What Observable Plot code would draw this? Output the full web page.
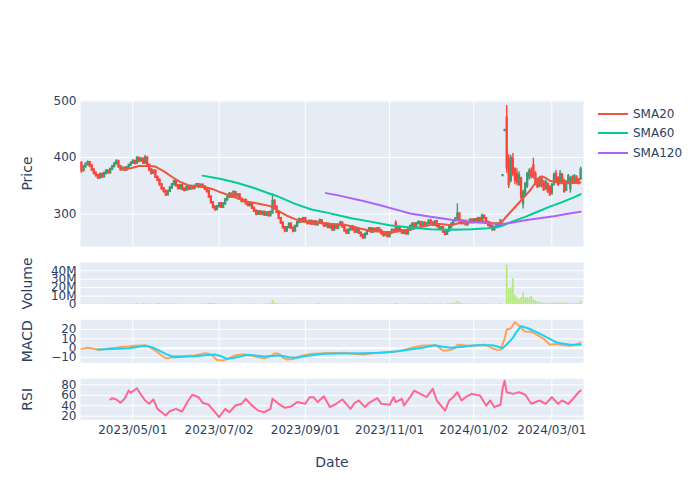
<!DOCTYPE html>
<html><head><meta charset="utf-8">
<script src="https://cdn.jsdelivr.net/npm/d3@7"></script>
<script src="https://cdn.jsdelivr.net/npm/@observablehq/plot@0.6"></script>
<style>
body{margin:0;background:#fff;}
#chart{position:relative;width:700px;height:500px;font-family:"DejaVu Sans",Verdana,sans-serif;color:#2a3f5f;}
#chart svg{position:absolute;left:0;top:0;}
.sw{position:absolute;left:598px;width:30px;height:2px;}
.lt{position:absolute;left:633px;font-size:12px;line-height:14px;white-space:nowrap;}
</style></head><body><div id="chart"></div>
<script>
// ---- data ----
const firstDay = "2023-03-27";
const holidays = ["2023-05-03","2023-05-04","2023-05-05","2023-07-17","2023-08-11","2023-09-18","2023-10-09","2023-11-03","2023-11-23","2024-01-01","2024-01-02","2024-01-03","2024-01-08","2024-02-12","2024-02-23","2024-03-20"];
const tickDates = ["2023-05-01","2023-07-02","2023-09-01","2023-11-01","2024-01-02","2024-03-01"];
const tickLabels = ["2023/05/01","2023/07/02","2023/09/01","2023/11/01","2024/01/02","2024/03/01"];

const openP = [390,377,384,388,391,385,378,372,368,364,
370,366,372,376,373,379,384,389,393,384,
379,381,378,382,386,390,393,390,398,394,
397,390,399,386,378,372,376,365,360,352,
345,340,334,340,346,352,357,350,345,350,
344,342,347,344,348,345,349,352,348,351,
348,344,340,330,320,312,308,313,318,312,
318,325,330,335,330,338,332,334,326,322,
324,318,315,318,310,305,300,304,300,303,
298,302,297,302,322,312,303,292,284,276,
270,276,282,275,270,278,285,290,286,292,
286,283,287,282,286,281,285,288,283,279,
282,276,280,272,278,275,280,284,277,270,
266,272,277,272,268,273,266,262,258,264,
270,274,268,273,270,274,270,265,262,265,
260,266,271,283,270,275,270,266,270,265,
272,278,282,277,283,285,280,284,279,283,
287,284,280,286,278,273,276,268,264,270,
276,282,288,289,300,288,283,287,281,285,
289,285,290,286,292,288,296,292,285,280,
278,272,276,282,279,368,448,470,396,360,
396,378,370,352,362,318,335,350,365,376,
385,370,360,350,362,355,345,352,346,336,
352,370,362,355,368,358,342,356,345,364,
356,364,360,362];
const highP = [392,386,390,394,393,387,380,374,370,372,
372,374,378,378,381,386,391,396,395,386,
383,383,384,388,392,396,395,402,401,399,
399,404,401,388,380,378,378,367,362,354,
347,342,342,348,354,360,359,352,352,352,
346,349,349,350,350,351,354,354,353,353,
350,346,342,332,322,314,315,320,320,320,
327,332,338,337,341,340,336,336,328,326,
326,320,320,320,312,307,306,306,305,305,
304,304,305,336,326,314,305,294,286,278,
278,284,284,277,280,287,293,292,294,294,
288,289,289,288,288,287,291,290,285,284,
284,282,282,280,280,282,287,286,279,272,
274,279,279,274,275,275,268,264,266,272,
276,276,275,275,276,276,272,267,267,267,
268,273,273,288,277,277,272,272,272,274,
280,284,284,285,288,287,286,286,285,290,
291,286,288,289,280,278,278,270,272,278,
284,290,294,318,302,290,289,289,287,291,
291,292,292,294,294,300,298,294,287,283,
280,278,284,284,290,368,448,492,405,404,
407,382,380,375,365,342,356,374,380,382,
399,375,364,366,366,359,360,355,350,354,
373,377,366,377,372,362,359,370,366,368,
370,368,363,383];
const lowP = [372,374,381,385,382,375,369,365,361,362,
363,364,369,371,371,377,382,387,381,376,
376,375,376,380,384,388,387,388,391,392,
388,388,384,375,369,370,363,357,349,342,
337,331,332,338,344,350,348,343,343,341,
339,340,341,342,343,343,347,346,346,345,
342,337,328,318,309,305,306,311,310,310,
316,323,328,328,328,330,330,324,320,320,
316,313,313,308,303,297,298,298,298,296,
296,295,295,300,310,301,290,282,273,267,
268,274,273,267,268,276,283,284,284,284,
281,281,280,280,279,279,283,281,276,277,
274,274,270,270,273,273,278,275,268,264,
264,270,270,266,266,264,259,255,256,262,
268,266,266,268,268,268,263,259,260,258,
258,264,266,268,268,268,264,264,263,263,
270,276,275,275,281,278,278,277,277,281,
282,278,278,276,271,271,266,261,262,268,
274,280,286,287,286,281,281,279,279,283,
283,283,284,284,286,286,290,283,277,275,
270,270,274,276,277,368,448,372,345,355,
366,352,350,349,325,309,330,345,360,362,
362,350,345,347,346,340,342,336,332,334,
350,354,349,352,352,337,340,352,337,352,
353,353,352,360];
const closeP = [377,384,388,391,385,378,372,368,364,370,
366,372,376,373,379,384,389,393,384,379,
381,378,382,386,390,393,390,398,394,397,
390,399,386,378,372,376,365,360,352,345,
340,334,340,346,352,357,350,345,350,344,
342,347,344,348,345,349,352,348,351,348,
344,340,330,320,312,308,313,318,312,318,
325,330,335,330,338,332,334,326,322,324,
318,315,318,310,305,300,304,300,303,298,
302,297,303,322,312,303,292,284,276,270,
276,282,275,270,278,285,290,286,292,286,
283,287,282,286,281,285,288,283,279,282,
276,280,272,278,275,280,284,277,270,266,
272,277,272,268,273,266,262,258,264,270,
274,268,273,270,274,270,265,262,265,260,
266,271,268,270,275,270,266,270,265,272,
278,282,277,283,285,280,284,279,283,287,
284,280,286,278,273,276,268,264,270,276,
282,288,291,300,288,283,287,281,285,289,
285,290,286,292,288,296,292,285,280,278,
272,276,282,279,288,368,448,382,352,398,
372,360,356,368,330,338,352,370,375,368,
366,356,348,362,350,343,356,340,334,350,
368,358,352,370,355,340,356,366,362,356,
366,356,354,378];
// volume in millions
const volumeM = [0.6,0.5,0.4,0.5,0.7,0.5,0.4,0.3,0.5,0.6,0.4,0.5,0.5,0.4,0.6,0.7,0.5,0.4,0.6,0.5,0.4,0.5,0.6,0.8,0.5,0.4,0.6,0.9,0.6,0.7,
1.1,0.8,0.6,0.7,0.5,0.6,0.9,1.0,1.3,0.9,0.8,0.6,0.7,0.5,0.6,0.8,0.5,0.4,0.5,0.6,0.4,0.5,0.4,0.5,0.6,0.5,0.4,0.5,0.6,0.7,
0.8,0.9,1.2,1.6,1.1,0.8,0.7,0.6,0.5,0.6,0.8,0.7,0.6,0.5,0.6,0.5,0.4,0.5,0.6,0.5,0.4,0.6,0.5,0.7,0.6,0.5,0.4,0.5,0.6,0.7,
0.8,1.0,1.6,5.2,2.0,1.2,0.9,0.8,0.7,0.6,0.7,0.6,0.5,0.6,0.7,0.5,0.6,0.5,0.4,0.5,0.6,0.5,0.4,0.5,0.6,0.8,1.0,0.6,0.5,0.4,
0.5,0.4,0.6,0.5,0.4,0.5,0.6,0.5,0.4,0.5,0.4,0.5,0.6,0.5,0.4,0.5,0.6,0.7,0.5,0.4,0.5,0.6,0.5,0.4,0.5,0.6,0.5,0.4,0.5,0.6,
0.5,0.7,0.6,1.3,0.8,0.6,0.5,0.4,0.5,0.6,0.8,0.9,0.7,0.6,0.8,0.7,0.6,0.9,1.1,0.8,0.7,0.6,0.8,0.7,0.6,0.9,0.7,0.6,0.8,1.0,
1.2,1.3,1.6,4.1,2.2,1.4,0.9,0.8,0.7,0.6,0.7,0.6,0.5,0.6,0.7,0.8,0.6,0.5,0.6,0.5,0.4,0.6,0.5,0.6,1.0,
0.3,0.4,47,18.7,19.9,30.6,10.7,8.7,6,8,13.5,8,8,8,9.5,5,4,3,2.5,2,1.8,1.5,1.5,1.2,1.5,2.2,1.5,1.2,1.8,1.5,1.8,1.5,1.2,1,1.2,1,1.2,1.4,3.5];

const sma20Day = [19,24,28,33,36,40,44,48,52,56,60,64,68,72,76,80,84,88,92,96,100,104,108,112,116,120,124,128,132,136,140,144,148,152,156,160,164,168,172,176,180,184,188,192,196,200,204,205,206,208,210,212,214,216,218,220,222,224,226,228,232,236,240,243];
const sma20Val = [379,381,385,385,384,376,366,357,351,349,348,344,338,333,328,322,320,317,314,305,297,291,287,285,284,283,282,281,278,274,271,269,268,268,270,272,276,279,283,282,280,284,285,286,287,284,283,287,292,300,308,316,324,332,340,350,360,367,364,359,356,355,355,356];
const sma60Day = [59,68,76,84,90,95,104,112,120,126,132,140,150,160,170,180,190,198,204,206,210,216,222,228,234,240,243];
const sma60Val = [368,362,355,346,338,332,318,308,302,297,292,287,280,276,273,272,273,275,278,281,287,295,304,313,321,330,335];
const sma120Day = [119,125,135,145,155,160,170,180,190,200,204,206,210,216,222,230,236,243];
const sma120Val = [337,333,325,316,306,301,295,290,286,283,282,283,285,289,292,296,300,304];

const macdDay = [0,3,5,8,11,14,17,19,23,26,29,31,33,35,37,39,41,43,45,50,55,58,60,62,64,66,69,72,75,79,83,86,89,92,94,96,98,100,103,105,108,112,116,120,124,128,132,137,141,144,148,152,156,160,163,165,168,172,174,176,178,180,182,183,185,188,192,196,198,200,202,204,205,206,207,209,211,213,215,216,218,220,222,225,228,231,234,238,241,243];
const macdVal = [-0.7,0.5,0,-1.7,-1.2,0,0.5,1.4,1.8,2.5,3.0,3.2,1.5,-1,-4.2,-7.5,-10.6,-10.3,-8.5,-8.2,-7.8,-6.5,-5.3,-5.8,-8.5,-12.4,-13,-10.5,-7.5,-6.4,-8,-9.6,-10.6,-8.5,-5.3,-6,-10,-12,-11.5,-9.6,-7.5,-6,-5.5,-5.3,-5,-4.9,-5.5,-6.7,-5.5,-4.9,-4.5,-3.9,-2.5,0,1.5,2.5,3,3.2,1,-2.5,-2.5,-1.4,0.5,3.6,3.3,2.5,3,3.6,2.5,0,-1.5,-1.7,4,10,19.9,21,27.7,24.1,19.5,17.8,17.5,16.4,14,10,3.6,4.6,3.5,2.5,4,5.8];
const signalDay = [8,15,23,28,31,34,37,41,45,50,55,60,65,68,71,75,81,85,89,93,97,101,105,110,118,125,132,138,145,150,155,160,166,172,176,180,186,192,200,203,205,207,210,212,214,217,220,224,228,231,234,238,243];
const signalVal = [-1.4,-0.8,0,1.5,2.5,1.4,-1.5,-6,-9.6,-9.2,-8.5,-7.5,-6.7,-8.5,-11.3,-9.8,-7,-7.8,-8.9,-8.2,-7.8,-9.5,-10.2,-8,-6,-5.7,-5.6,-5.3,-4.8,-3.9,-3,-1.4,0.5,3.2,1.5,0.4,1.5,3.2,3.2,1.5,0,4,11,18,23.4,21.5,18.8,14.5,10,6.5,4.9,3.8,3.6];

const rsiDay = [14,15,17,19,21,23,24,27,29,31,33,35,37,41,43,46,49,52,54,57,59,62,65,67,70,72,75,78,80,83,86,89,92,93,96,99,102,105,109,111,113,115,118,121,124,127,131,133,135,138,140,144,146,150,152,153,156,157,160,162,165,168,171,173,177,179,181,183,185,187,190,194,197,199,201,203,204,205,206,207,210,213,216,219,223,226,229,232,234,237,240,242,243];
const rsiVal = [51.9,54.4,52,45.6,53.2,69,64.7,73.5,61,50,43.7,52,34,21.3,29.5,34,29,50,61,56.3,45.6,41.8,27.6,18,34,27.6,40.4,43.7,53.2,40.4,30.7,27.6,34,53.2,43.7,36,38.5,47,43.7,56.3,56.3,47,58.2,37.2,43.7,52,34,45.6,50,37.2,45.6,54.4,43.7,41.8,56.3,47,53.2,40.4,56.3,69,62.7,56.3,72.3,50,30.7,50,56.3,65.8,50,56.3,62.7,59.5,40.4,50,37.2,40.4,41.8,72.3,88,65.8,62.7,66,61,43.7,50,43.7,56.3,43.7,50,43.7,56.3,65.8,69];

// ---- trading calendar (weekdays minus exchange holidays) ----
const dates = [];
{
  let t = new Date(firstDay + "T00:00:00Z").getTime();
  while (dates.length < closeP.length) {
    const d = new Date(t), s = d.toISOString().slice(0, 10), w = d.getUTCDay();
    if (w !== 0 && w !== 6 && !holidays.includes(s)) dates.push(s);
    t += 86400000;
  }
}
const tickIdx = tickDates.map(td => dates.findIndex(s => s >= td));

const candles = closeP.map((c, i) => ({i, o: openP[i], h: highP[i], l: lowP[i], c}));
const upC = candles.filter(d => d.c >= d.o), downC = candles.filter(d => d.c < d.o);
const vol = volumeM.map((v, i) => ({i, v}));
const pairs = (days, vals) => days.map((d, k) => ({i: d, v: vals[k]}));

const xDomain = [-0.46, 244.4];
const INC = "#3D9970", DEC = "#FF4136", TXT = "#2a3f5f", BG = "#E5ECF6";
const minus = d => d < 0 ? "\u2212" + (-d) : String(d);

function panel({top, bottom, yDomain, yTicks, yFormat, label, marks, xgrid = true, xaxis = false, zero = false}) {
  return Plot.plot({
    width: 700, height: 500,
    marginLeft: 80, marginRight: 117, marginTop: top, marginBottom: 500 - bottom,
    style: {background: "transparent", fontFamily: "DejaVu Sans, Verdana, sans-serif", fontSize: "12px", color: TXT, overflow: "visible"},
    x: {type: "linear", domain: xDomain, axis: null},
    y: {type: "linear", domain: yDomain, axis: null},
    marks: [
      Plot.frame({fill: BG, stroke: "none"}),
      Plot.gridY(yTicks, {stroke: "#fff", strokeOpacity: 1, strokeWidth: 1}),
      xgrid ? Plot.gridX(tickIdx, {stroke: "#fff", strokeOpacity: 1, strokeWidth: 1}) : null,
      zero ? Plot.ruleY([0], {stroke: "#fff", strokeWidth: 2}) : null,
      ...marks,
      Plot.axisY(yTicks, {tickSize: 0, tickPadding: 4, tickFormat: yFormat, label: null, fontSize: 12}),
      xaxis ? Plot.axisX(tickIdx, {tickSize: 0, tickPadding: 6, tickFormat: d => tickLabels[tickIdx.indexOf(d)], label: null, fontSize: 12}) : null,
      Plot.text([label], {frameAnchor: "left", dx: -53, rotate: -90, textAnchor: "middle", fontSize: 14, fill: TXT}),
      xaxis ? Plot.text(["Date"], {frameAnchor: "bottom", dy: 43, fontSize: 14, fill: TXT, lineAnchor: "middle", textAnchor: "middle"}) : null
    ]
  });
}

const chart = document.getElementById("chart");

chart.append(panel({
  top: 100, bottom: 246, yDomain: [242.5, 501], yTicks: [300, 400, 500], yFormat: String, label: "Price",
  marks: [
    Plot.ruleX(upC, {x: "i", y1: "l", y2: "h", stroke: INC, strokeWidth: 1.4}),
    Plot.ruleX(downC, {x: "i", y1: "l", y2: "h", stroke: DEC, strokeWidth: 1.4}),
    Plot.ruleX(upC, {x: "i", y1: "o", y2: "c", stroke: INC, strokeWidth: 2.3, strokeLinecap: "square"}),
    Plot.ruleX(downC, {x: "i", y1: "o", y2: "c", stroke: DEC, strokeWidth: 2.3, strokeLinecap: "square"}),
    Plot.line(pairs(sma20Day, sma20Val), {x: "i", y: "v", stroke: "#EF553B", strokeWidth: 2}),
    Plot.line(pairs(sma60Day, sma60Val), {x: "i", y: "v", stroke: "#00CC96", strokeWidth: 2}),
    Plot.line(pairs(sma120Day, sma120Val), {x: "i", y: "v", stroke: "#AB63FA", strokeWidth: 2})
  ]
}));

chart.append(panel({
  top: 262, bottom: 304, yDomain: [0, 49.8], yTicks: [0, 10, 20, 30, 40], yFormat: d => d ? d + "M" : "0", label: "Volume",
  xgrid: false, zero: true,
  marks: [
    Plot.ruleX(vol, {x: "i", y1: 0, y2: "v", stroke: "#B6E880", strokeWidth: 1.7})
  ]
}));

chart.append(panel({
  top: 319.3, bottom: 362.3, yDomain: [-15.5, 30.2], yTicks: [-10, 0, 10, 20], yFormat: minus, label: "MACD",
  zero: true,
  marks: [
    Plot.line(pairs(macdDay, macdVal), {x: "i", y: "v", stroke: "#FFA15A", strokeWidth: 2}),
    Plot.line(pairs(signalDay, signalVal), {x: "i", y: "v", stroke: "#19D3F3", strokeWidth: 2})
  ]
}));

chart.append(panel({
  top: 378.3, bottom: 419.3, yDomain: [13.1, 91.5], yTicks: [20, 40, 60, 80], yFormat: String, label: "RSI",
  xaxis: true,
  marks: [
    Plot.line(pairs(rsiDay, rsiVal), {x: "i", y: "v", stroke: "#FF6692", strokeWidth: 2})
  ]
}));

// legend
const legendItems = ["SMA20", "SMA60", "SMA120"];
const legendColors = ["#EF553B", "#00CC96", "#AB63FA"];
legendItems.forEach((name, k) => {
  const cy = 114 + k * 19.3;
  const sw = document.createElement("div");
  sw.className = "sw"; sw.style.top = (cy - 1) + "px"; sw.style.background = legendColors[k];
  const lt = document.createElement("div");
  lt.className = "lt"; lt.style.top = (cy - 7) + "px"; lt.textContent = name;
  chart.append(sw, lt);
});
</script>
</body></html>
